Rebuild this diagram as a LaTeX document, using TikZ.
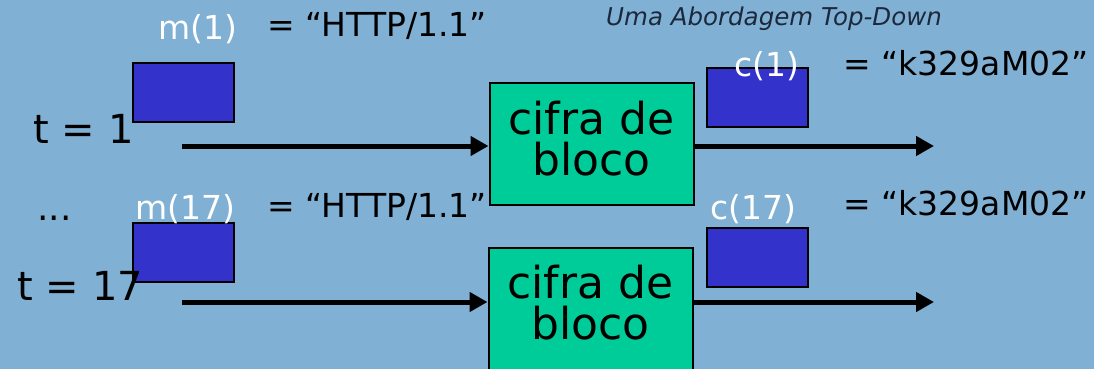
\documentclass[tikz,border=0pt]{standalone}
\usepackage{fontspec}
\setmainfont{DejaVu Sans}
\newfontfamily\bookfont{DejaVu Sans}
\usetikzlibrary{arrows.meta,positioning}
\definecolor{slideblue}{RGB}{128,176,212}
\definecolor{ciphergreen}{RGB}{0,204,153}
\definecolor{blockblue}{RGB}{51,51,204}
\definecolor{titlegray}{RGB}{28,40,60}

\begin{document}
\begin{tikzpicture}[x=1pt, y=-1pt,
                    line width=1pt,
                    ]
    \tikzstyle{cipher}=[draw=black, fill=ciphergreen, line width=2pt, minimum width=204pt, minimum height=122pt, inner sep=0pt, align=center, text depth=12pt, font=\fontsize{44}{41}\selectfont];
    \tikzstyle{block}=[draw=black, fill=blockblue, line width=2pt, minimum width=101pt, minimum height=59pt, inner sep=0pt];
    \tikzstyle{label}=[anchor=base west, inner sep=0pt, font=\fontsize{33}{36}\selectfont];
    \tikzstyle{varname}=[label, text=white];
    \tikzstyle{timestep}=[label, font=\fontsize{40}{44}\selectfont];
    \tikzstyle{flow}=[line width=5pt, -{Triangle[length=18pt,width=19pt]}];

    \fill[slideblue] (0,0) rectangle (1094,369);
    \useasboundingbox (0,0) rectangle (1094,369);

    \node[titlegray, font=\bookfont\itshape\fontsize{24.5}{26}\selectfont] (title) at (774,19) {Uma Abordagem Top-Down};

    % t = 1
    \node[block] (mbox1) at (183.5,92.5) {};
    \node[block] (cbox1) at (757.5,97.5) {};
    \node[cipher] (cipher1) at (591.5,144) {cifra de\\bloco};
    \node[timestep] (t1) at (33,143) {t = 1};
    \node[varname] (m1) at (158,40) {m(1)};
    \node[label] (plain1) at (267,37) {= “HTTP/1.1”};
    \node[varname] (c1) at (734,76) {c(1)};
    \node[label] (crypt1) at (843,75) {= “k329aM02”};
    \coordinate (in1) at (182,146);
    \coordinate (out1) at (934,146);
    \draw[flow] (in1) -- (in1 -| cipher1.west);
    \draw[flow] (cipher1.east |- out1) -- (out1);

    % t = 17
    \node[block] (mbox17) at (183.5,252.5) {};
    \node[block] (cbox17) at (757.5,257) {};
    \node[cipher] (cipher17) at (590.5,308.5) {cifra de\\bloco};
    \node[label, font=\fontsize{36}{40}\selectfont] (dots) at (37,220) {...};
    \node[timestep] (t17) at (17,300) {t = 17};
    \node[varname] (m17) at (135,219) {m(17)};
    \node[label] (plain17) at (267,217) {= “HTTP/1.1”};
    \node[varname] (c17) at (710,219) {c(17)};
    \node[label] (crypt17) at (843,215) {= “k329aM02”};
    \coordinate (in17) at (182,302);
    \coordinate (out17) at (934,302);
    \draw[flow] (in17) -- (in17 -| cipher17.west);
    \draw[flow] (cipher17.east |- out17) -- (out17);
\end{tikzpicture}
\end{document}
